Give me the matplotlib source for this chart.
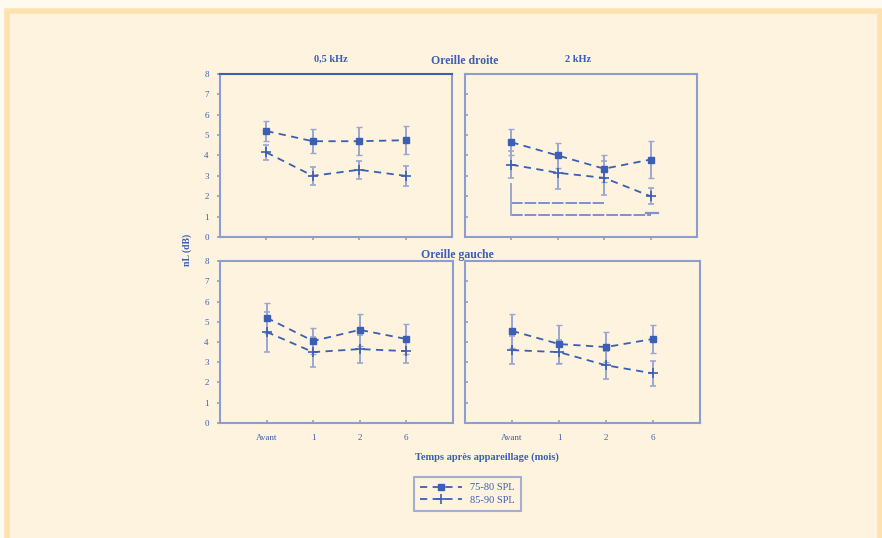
import matplotlib.pyplot as plt
from matplotlib.patches import Rectangle

plt.rcParams['font.family'] = ['Liberation Serif', 'DejaVu Serif']

# Data
x_labels = ['Avant', '1', '2', '6']
x_pos = [0, 1, 2, 3]
legend_labels = ['75-80 SPL', '85-90 SPL']

# droite 0,5 kHz
d05_s1 = [5.2, 4.7, 4.7, 4.75]
d05_s1_err = [0.5, 0.6, 0.7, 0.7]
d05_s2 = [4.15, 3.0, 3.3, 3.0]
d05_s2_err = [0.35, 0.45, 0.45, 0.5]
# droite 2 kHz
d2_s1 = [4.65, 4.0, 3.35, 3.8]
d2_s1_err = [0.65, 0.6, 0.65, 0.9]
d2_s2 = [3.55, 3.15, 2.9, 2.0]
d2_s2_err = [0.65, 0.8, 0.85, 0.4]
# gauche 0,5 kHz
g05_s1 = [5.2, 4.05, 4.6, 4.15]
g05_s1_err = [0.75, 0.65, 0.8, 0.75]
g05_s2 = [4.5, 3.5, 3.65, 3.55]
g05_s2_err = [1.0, 0.75, 0.7, 0.6]
# gauche 2 kHz
g2_s1 = [4.55, 3.9, 3.75, 4.15]
g2_s1_err = [0.85, 0.95, 0.75, 0.7]
g2_s2 = [3.6, 3.5, 2.85, 2.45]
g2_s2_err = [0.7, 0.6, 0.7, 0.6]

bg = '#fef3de'
blue = '#3a5fb4'
frame = '#8e9dcf'
light = '#9aa6d4'

fig = plt.figure(figsize=(8.82, 5.38), dpi=100, facecolor='#fffaf0')
fig.patches.append(Rectangle((0.008, -0.01), 0.99, 0.99, transform=fig.transFigure,
                             facecolor=bg, edgecolor='#fde2b0', linewidth=4, zorder=-5))

panels = [
    ([0.2494, 0.5595, 0.263, 0.303], d05_s1, d05_s1_err, d05_s2, d05_s2_err, True, False),
    ([0.5272, 0.5595, 0.263, 0.303], d2_s1, d2_s1_err, d2_s2, d2_s2_err, False, False),
    ([0.2494, 0.2138, 0.264, 0.301], g05_s1, g05_s1_err, g05_s2, g05_s2_err, True, True),
    ([0.5272, 0.2138, 0.2664, 0.301], g2_s1, g2_s1_err, g2_s2, g2_s2_err, False, True),
]

axes = []
for rect, s1, e1, s2, e2, ylab, xlab in panels:
    ax = fig.add_axes(rect)
    ax.set_facecolor(bg)
    ax.errorbar(x_pos, s1, yerr=e1, color=blue, ecolor=light, elinewidth=1.4, capsize=2,
                marker='s', markersize=4, linewidth=1.3, linestyle=(0, (4, 3)))
    ax.errorbar(x_pos, s2, yerr=e2, color=blue, ecolor=light, elinewidth=1.4, capsize=2,
                marker='+', markersize=7, markeredgewidth=1.2, linewidth=1.3, linestyle=(0, (4, 3)))
    ax.set_xlim(-1, 4)
    ax.set_ylim(0, 8)
    ax.set_yticks(range(9))
    ax.set_xticks(x_pos)
    for s in ax.spines.values():
        s.set_color(frame)
        s.set_linewidth(1.5)
    ax.tick_params(colors=frame, labelcolor=blue, labelsize=6.5, length=2, width=1.2)
    if ylab:
        ax.tick_params(axis='y', direction='out', pad=6)
    else:
        ax.tick_params(axis='y', direction='in', labelleft=False)
    if xlab:
        ax.set_xticklabels(x_labels)
        ax.tick_params(axis='x', direction='in', pad=8)
    else:
        ax.tick_params(axis='x', direction='out', labelbottom=False)
    axes.append(ax)

axes[0].spines['top'].set_color(blue)

# brackets in the top-right panel
ax = axes[1]
ax.plot([0, 2], [1.65, 1.65], color='#7f90cc', linewidth=1.4, linestyle=(0, (6, 1)))
ax.plot([0, 3], [1.1, 1.1], color='#7f90cc', linewidth=1.4, linestyle=(0, (6, 1)))
ax.plot([0, 0], [1.1, 2.6], color=light, linewidth=1.4)
ax.plot([2.9, 3.15], [1.2, 1.2], color='#7f90cc', linewidth=1.6)

leg_handles = [c.lines[0] for c in axes[0].containers]
leg = fig.legend(leg_handles, legend_labels, loc='center', bbox_to_anchor=(0.53, 0.082),
                 fontsize=7.5, frameon=True, fancybox=False, handlelength=4,
                 borderpad=0.6, labelspacing=0.3, labelcolor=blue)
leg.get_frame().set_facecolor(bg)
leg.get_frame().set_edgecolor(frame)
leg.get_frame().set_linewidth(1.5)

fig.text(0.375, 0.885, '0,5 kHz', color=blue, fontsize=7.5, ha='center', fontweight='bold')
fig.text(0.527, 0.881, 'Oreille droite', color=blue, fontsize=8.5, ha='center', fontweight='bold')
fig.text(0.655, 0.885, '2 kHz', color=blue, fontsize=7.5, ha='center', fontweight='bold')
fig.text(0.518, 0.521, 'Oreille gauche', color=blue, fontsize=8.5, ha='center', fontweight='bold')
fig.text(0.212, 0.535, 'nL (dB)', color=blue, fontsize=7, ha='center', va='center', rotation=90,
         fontweight='bold')
fig.text(0.552, 0.145, 'Temps après appareillage (mois)', color=blue, fontsize=7.5, ha='center',
         fontweight='bold')

fig.savefig('out.png', dpi=100, facecolor=fig.get_facecolor())
